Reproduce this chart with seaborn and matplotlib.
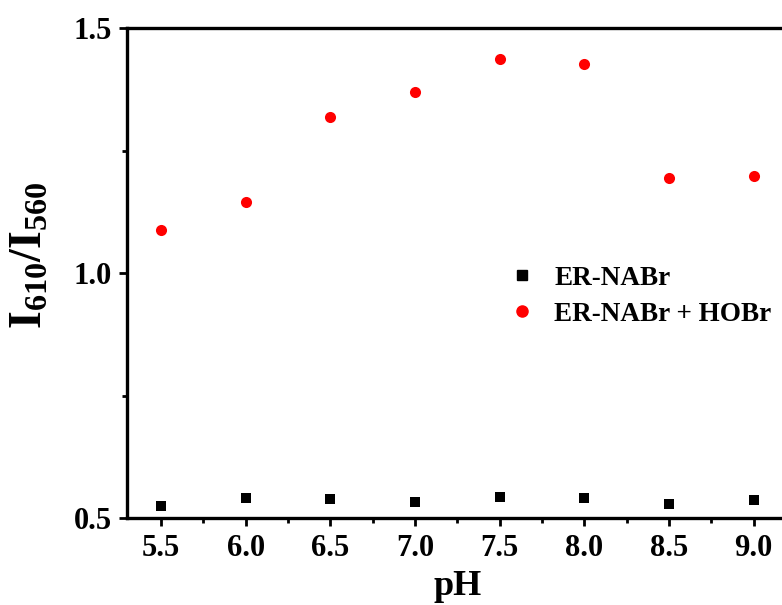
import matplotlib
matplotlib.use("Agg")
import matplotlib.pyplot as plt
import seaborn as sns
import pandas as pd
from matplotlib.ticker import MultipleLocator
from matplotlib.lines import Line2D

ph = [5.5, 6.0, 6.5, 7.0, 7.5, 8.0, 8.5, 9.0]
er_nabr = [0.526, 0.541, 0.539, 0.533, 0.543, 0.541, 0.529, 0.537]
er_nabr_hobr = [1.089, 1.146, 1.319, 1.370, 1.437, 1.427, 1.195, 1.199]
series_names = ["ER-NABr", "ER-NABr + HOBr"]
x_ticks = [5.5, 6.0, 6.5, 7.0, 7.5, 8.0, 8.5, 9.0]
y_ticks = [0.5, 1.0, 1.5]

sns.set_theme(style="ticks")
plt.rcParams['font.family'] = ['Liberation Serif', 'DejaVu Serif']
plt.rcParams['font.weight'] = 'bold'
plt.rcParams['text.color'] = 'black'
plt.rcParams['axes.labelcolor'] = 'black'
plt.rcParams['xtick.color'] = 'black'
plt.rcParams['ytick.color'] = 'black'
plt.rcParams['axes.edgecolor'] = 'black'
plt.rcParams['mathtext.fontset'] = 'custom'
plt.rcParams['mathtext.rm'] = 'Liberation Serif:bold'
plt.rcParams['mathtext.bf'] = 'Liberation Serif:bold'
plt.rcParams['mathtext.it'] = 'Liberation Serif:bold'

df = pd.DataFrame({
    "pH": ph * 2,
    "ratio": er_nabr + er_nabr_hobr,
    "series": [series_names[0]] * len(ph) + [series_names[1]] * len(ph),
})

fig = plt.figure(figsize=(7.82, 6.05), dpi=100)
ax = fig.add_axes([127.3 / 782, 1 - 518.3 / 605, 660.3 / 782, 490 / 605])

sub0 = df[df.series == series_names[0]]
sub1 = df[df.series == series_names[1]]
sns.scatterplot(data=sub0, x="pH", y="ratio", marker="s", color="black", s=48,
                linewidth=0, ax=ax, legend=False)
sns.scatterplot(data=sub1, x="pH", y="ratio", marker="o", color="#ff0000", s=64,
                linewidth=0, ax=ax, legend=False)

ax.set_xlim(5.3, 9.2)
ax.set_ylim(0.5, 1.5)
ax.set_xticks(x_ticks)
ax.set_xticklabels([f"{v:.1f}" for v in x_ticks])
ax.set_yticks(y_ticks)
ax.set_yticklabels([f"{v:.1f}" for v in y_ticks])
ax.xaxis.set_minor_locator(MultipleLocator(0.25))
ax.yaxis.set_minor_locator(MultipleLocator(0.25))

for side in ["left", "bottom", "top"]:
    ax.spines[side].set_linewidth(2.4)
    ax.spines[side].set_color("black")
ax.spines["right"].set_visible(False)

ax.tick_params(axis="both", which="major", direction="out", length=6, width=2,
               labelsize=22, pad=5, color="black", labelcolor="black")
ax.tick_params(axis="both", which="minor", direction="out", length=3.5, width=2,
               color="black")
ax.tick_params(axis="x", which="both", top=False)
ax.tick_params(axis="y", which="both", right=False)
for lab in ax.get_xticklabels() + ax.get_yticklabels():
    lab.set_fontweight("bold")

ax.set_xlabel("pH", fontsize=26, fontweight="bold", labelpad=5, color="black")
ax.set_ylabel(r"$\mathbf{I_{610}/I_{560}}$", fontsize=33, color="black")
ax.yaxis.set_label_coords(-0.115, 0.537)
ax.grid(False)

handles = [
    Line2D([], [], marker="s", color="black", linestyle="none", markersize=7),
    Line2D([], [], marker="o", color="#ff0000", linestyle="none", markersize=8),
]
leg = ax.legend(handles, series_names, loc="upper left",
                bbox_to_anchor=(0.536, 0.565), frameon=False,
                prop={"family": "Liberation Serif", "weight": "bold", "size": 19.5},
                handletextpad=0.6, labelspacing=0.4, handlelength=1.2)
for t in leg.get_texts():
    t.set_color("black")

fig.savefig("out.png", dpi=100)
